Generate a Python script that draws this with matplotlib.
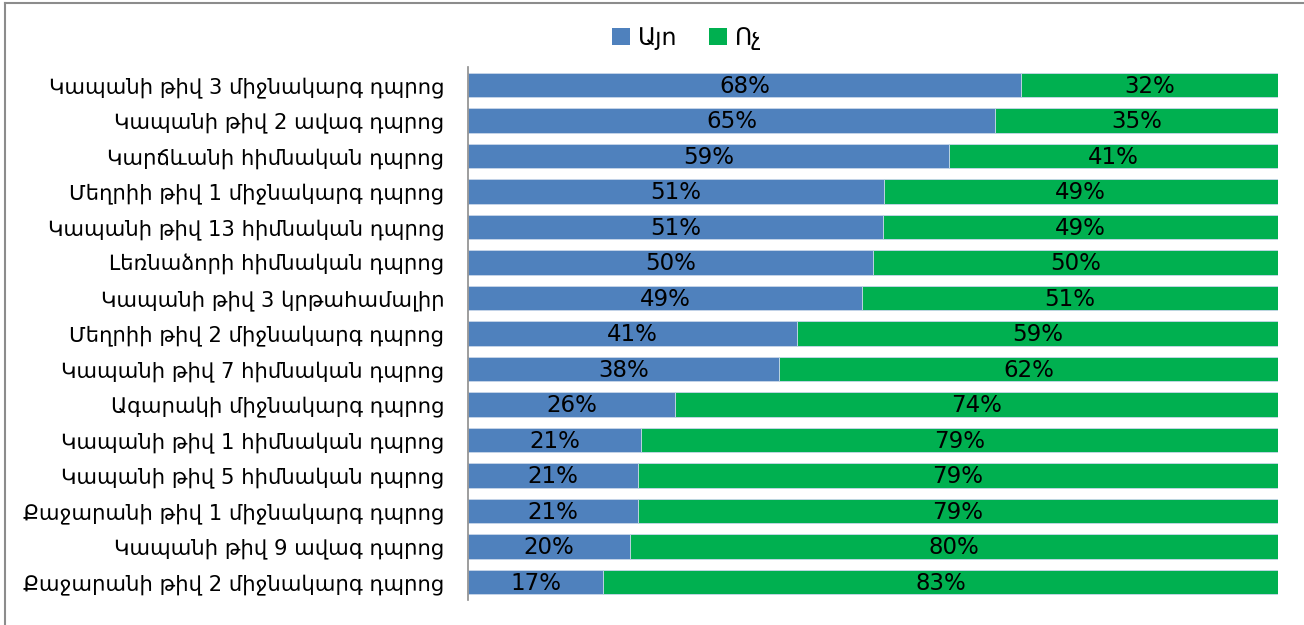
import matplotlib
matplotlib.use("Agg")
import matplotlib.pyplot as plt
from matplotlib.lines import Line2D
from matplotlib.patches import Patch

plt.rcParams['font.family'] = ['DejaVu Sans']

categories = [
    "Կապանի թիվ 3 միջնակարգ դպրոց",
    "Կապանի թիվ 2 ավագ դպրոց",
    "Կարճևանի հիմնական դպրոց",
    "Մեղրիի թիվ 1 միջնակարգ դպրոց",
    "Կապանի թիվ 13 հիմնական դպրոց",
    "Լեռնաձորի հիմնական դպրոց",
    "Կապանի թիվ 3 կրթահամալիր",
    "Մեղրիի թիվ 2 միջնակարգ դպրոց",
    "Կապանի թիվ 7 հիմնական դպրոց",
    "Ագարակի միջնակարգ դպրոց",
    "Կապանի թիվ 1 հիմնական դպրոց",
    "Կապանի թիվ 5 հիմնական դպրոց",
    "Քաջարանի թիվ 1 միջնակարգ դպրոց",
    "Կապանի թիվ 9 ավագ դպրոց",
    "Քաջարանի թիվ 2 միջնակարգ դպրոց",
]
yes_values = [68.3, 65.1, 59.4, 51.3, 51.2, 50.0, 48.6, 40.6, 38.4, 25.6, 21.4, 21.0, 21.0, 20.0, 16.7]
no_values = [100 - v for v in yes_values]
series_names = ["Այո", "Ոչ"]
colors = ["#4F81BD", "#00B050"]

fig = plt.figure(figsize=(13.04, 6.25), dpi=100)
ax = fig.add_axes([468/1304, 1 - 599.75/625, 810/1304, 532.5/625])

y = list(range(len(categories)))
ax.barh(y, yes_values, height=0.68, color=colors[0], edgecolor="#c8d6ea", linewidth=0.6)
ax.barh(y, no_values, left=yes_values, height=0.68, color=colors[1], edgecolor="#c8d6ea", linewidth=0.6)

for i in y:
    ax.text(yes_values[i] / 2, i + 0.04, f"{round(yes_values[i])}%", ha="center", va="center", fontsize=16.5, color="black")
    ax.text(yes_values[i] + no_values[i] / 2, i + 0.04, f"{round(no_values[i])}%", ha="center", va="center", fontsize=16.5, color="black")

ax.set_xlim(0, 100)
ax.set_ylim(len(categories) - 0.5, -0.5)
ax.set_yticks(y)
ax.set_yticklabels(categories, fontsize=15.2)
ax.tick_params(axis='y', length=0, pad=17)
ax.set_xticks([])
for s in ["top", "right", "bottom"]:
    ax.spines[s].set_visible(False)
ax.spines["left"].set_color("#8c8c8c")
ax.spines["left"].set_linewidth(1.2)

handles = [Patch(facecolor=colors[0]), Patch(facecolor=colors[1])]
fig.legend(handles, series_names, loc="center", bbox_to_anchor=(687/1304, 1 - 38/625), ncol=2,
           frameon=False, fontsize=17, handlelength=0.75, handleheight=0.75, handletextpad=0.35, columnspacing=1.35)

# outer frame (top and left visible)
fig.add_artist(Line2D([5/1304, 1], [1 - 3/625, 1 - 3/625], color="#8c8c8c", linewidth=1.5, transform=fig.transFigure))
fig.add_artist(Line2D([5/1304, 5/1304], [0, 1 - 3/625], color="#8c8c8c", linewidth=1.5, transform=fig.transFigure))

fig.savefig("out.png", dpi=100)
